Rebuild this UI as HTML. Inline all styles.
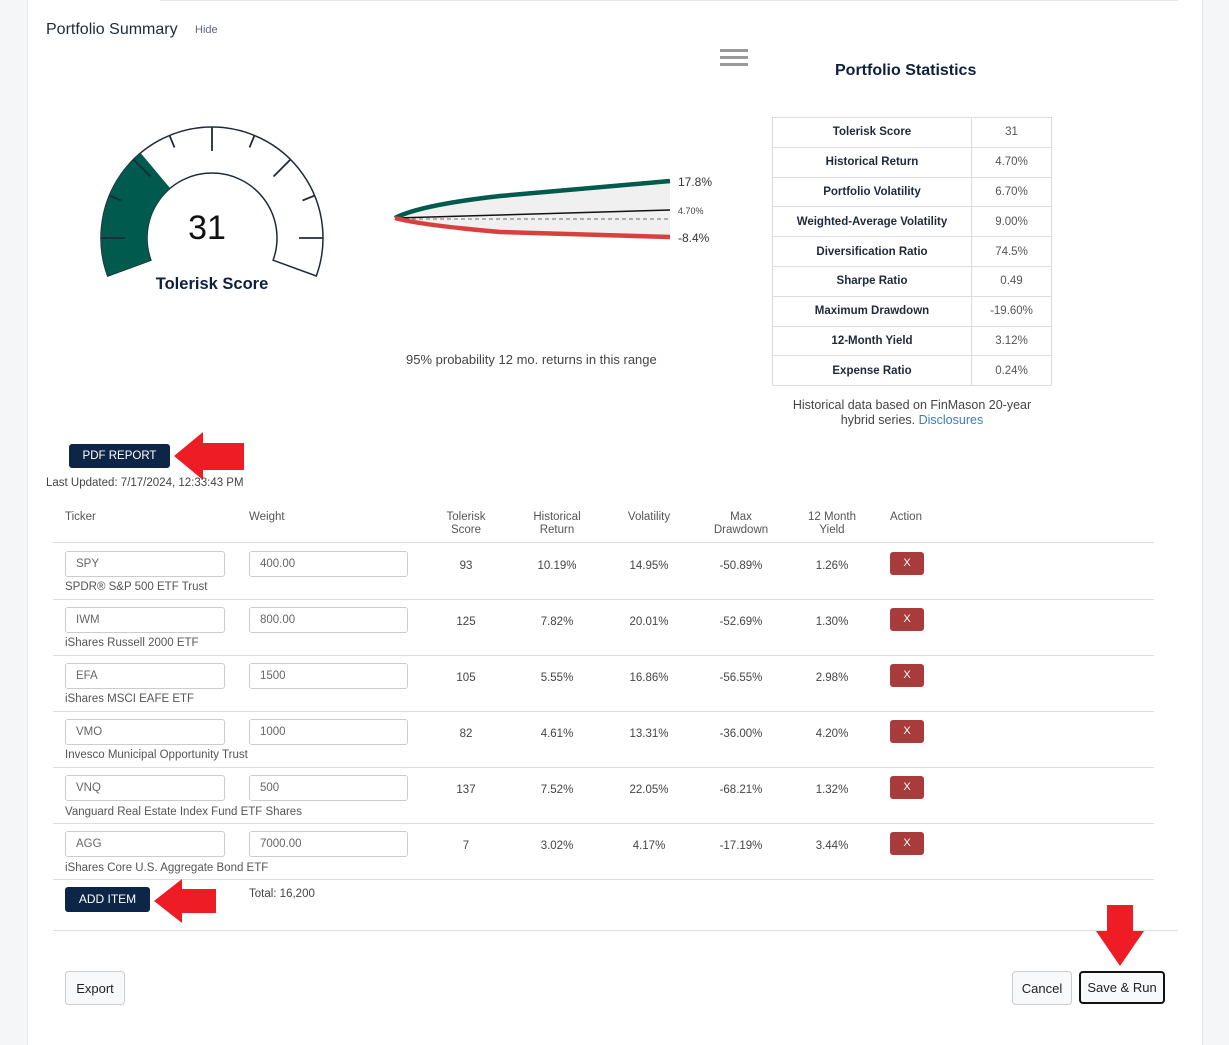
<!DOCTYPE html>
<html><head><meta charset="utf-8">
<style>
*{box-sizing:border-box;margin:0;padding:0}
body{width:1229px;height:1045px;background:#f5f6f8;font-family:"Liberation Sans",sans-serif;color:#1e2a3a;position:relative;overflow:hidden}
.card{position:absolute;left:27px;top:0;width:1176px;height:1045px;background:#fff;border-left:1px solid #e6e8eb;border-right:1px solid #e6e8eb}
.abs{position:absolute}
.t{position:absolute;white-space:nowrap}
table.st{position:absolute;left:772px;top:117px;border-collapse:collapse;font-size:11.5px}
table.st td{border:1px solid #ddd;height:29.8px;text-align:center}
table.st td.k{width:199px;font-weight:bold;color:#1e2a3a}
table.st td.v{width:80px;color:#555}
.inp{position:absolute;height:26px;border:1px solid #ccc;border-radius:3px;font-size:11.5px;color:#666;padding:6px 10px}
.hl{position:absolute;left:53px;width:1101px;height:1px;background:#ddd}
.x{position:absolute;left:890px;width:34px;height:23px;background:#a83b3b;border-radius:3px;color:#fff;font-size:11px;text-align:center;line-height:22px}
.c{position:absolute;font-size:11.5px;color:#444;text-align:center;width:80px}
.nm{position:absolute;left:65px;font-size:11.5px;color:#555}
.hd{position:absolute;font-size:11.5px;color:#555;text-align:center;line-height:13px}
.btn{position:absolute;background:#f8f9fa;border:1px solid #ccc;border-radius:4px;font-size:13px;color:#222;text-align:center}
.navy{position:absolute;background:#0d2547;color:#fff;border-radius:3px;font-size:11.5px;text-align:center}
</style></head><body>
<div class="card"></div>
<div class="abs" style="left:160px;top:0;width:1018px;height:1px;background:#e6e8eb"></div>
<div class="t" style="left:46px;top:21px;font-size:16px;color:#1e2a3a">Portfolio Summary</div>
<div class="t" style="left:195px;top:24px;font-size:11px;color:#5a6a80">Hide</div>
<div class="abs" style="left:720px;top:49px;width:28px;height:3px;background:#999;box-shadow:0 7px 0 #999,0 14px 0 #999"></div>
<div class="t" style="left:835px;top:62px;font-size:16px;font-weight:bold;color:#0d2040">Portfolio Statistics</div>

<svg class="abs" style="left:0;top:0" width="740" height="400">
<path d="M107.7,276 A111,111 0 1 1 316.3,276 L273.1,260.2 A65,65 0 1 0 150.9,260.2 Z" fill="#fff" stroke="#1e2a3a" stroke-width="1.5"/>
<path d="M107.7,276 A111,111 0 0 1 140.6,153 L170.2,188.2 A65,65 0 0 0 150.9,260.2 Z" fill="#005a4e"/>
<g stroke="#1e2a3a" stroke-width="1.8">
<line x1="212" y1="127" x2="212" y2="151" transform="rotate(-90 212 238)"/>
<line x1="212" y1="127" x2="212" y2="140" transform="rotate(-67.5 212 238)"/>
<line x1="212" y1="127" x2="212" y2="151" transform="rotate(-45 212 238)"/>
<line x1="212" y1="127" x2="212" y2="140" transform="rotate(-22.5 212 238)"/>
<line x1="212" y1="127" x2="212" y2="151"/>
<line x1="212" y1="127" x2="212" y2="140" transform="rotate(22.5 212 238)"/>
<line x1="212" y1="127" x2="212" y2="151" transform="rotate(45 212 238)"/>
<line x1="212" y1="127" x2="212" y2="140" transform="rotate(67.5 212 238)"/>
<line x1="212" y1="127" x2="212" y2="151" transform="rotate(90 212 238)"/>
</g>
<text x="207" y="239" font-size="34" text-anchor="middle" fill="#111" font-family="Liberation Sans">31</text>
<text x="212" y="289" font-size="16.5" font-weight="bold" text-anchor="middle" fill="#0d2040" font-family="Liberation Sans">Tolerisk Score</text>
<path d="M395,218 Q420,205 500,196 L670,181 L670,237 L500,232 Q420,225 395,218 Z" fill="#f0f0f0"/>
<line x1="398" y1="219" x2="670" y2="219" stroke="#888" stroke-width="1.3" stroke-dasharray="4,3"/>
<line x1="396" y1="218" x2="670" y2="210" stroke="#111" stroke-width="1.5"/>
<path d="M395,218 Q420,205 500,196 L670,181" fill="none" stroke="#005a4e" stroke-width="4.5"/>
<path d="M395,218 Q420,225 500,232 L670,237" fill="none" stroke="#d9403d" stroke-width="4.5"/>
<text x="678" y="186" font-size="12" fill="#333" font-family="Liberation Sans">17.8%</text>
<text x="678" y="214" font-size="9" fill="#444" font-family="Liberation Sans">4.70%</text>
<text x="678" y="242" font-size="12" fill="#333" font-family="Liberation Sans">-8.4%</text>
</svg>
<div class="t" style="left:406px;top:352px;font-size:13px;color:#444">95% probability 12 mo. returns in this range</div>

<table class="st">
<tr><td class="k">Tolerisk Score</td><td class="v">31</td></tr>
<tr><td class="k">Historical Return</td><td class="v">4.70%</td></tr>
<tr><td class="k">Portfolio Volatility</td><td class="v">6.70%</td></tr>
<tr><td class="k">Weighted-Average Volatility</td><td class="v">9.00%</td></tr>
<tr><td class="k">Diversification Ratio</td><td class="v">74.5%</td></tr>
<tr><td class="k">Sharpe Ratio</td><td class="v">0.49</td></tr>
<tr><td class="k">Maximum Drawdown</td><td class="v">-19.60%</td></tr>
<tr><td class="k">12-Month Yield</td><td class="v">3.12%</td></tr>
<tr><td class="k">Expense Ratio</td><td class="v">0.24%</td></tr>
</table>
<div class="t" style="left:782px;top:398px;width:260px;text-align:center;font-size:12.5px;color:#444;line-height:15px;white-space:normal">Historical data based on FinMason 20-year hybrid series. <span style="color:#3c7bc0">Disclosures</span></div>

<div class="navy" style="left:69px;top:444px;width:101px;height:24px;line-height:24px">PDF REPORT</div>
<svg class="abs" style="left:172px;top:430px" width="75" height="50"><path d="M2,26 L31,2 L31,13 L72,13 L72,40 L31,40 L31,50 Z" fill="#ee1c25"/></svg>
<div class="t" style="left:46px;top:477px;font-size:11.5px;color:#444">Last Updated: 7/17/2024, 12:33:43 PM</div>

<div class="hd" style="left:65px;top:511px;text-align:left">Ticker</div>
<div class="hd" style="left:249px;top:511px;text-align:left">Weight</div>
<div class="hd" style="left:426px;top:511px;width:80px">Tolerisk<br>Score</div>
<div class="hd" style="left:517px;top:511px;width:80px">Historical<br>Return</div>
<div class="hd" style="left:609px;top:511px;width:80px">Volatility</div>
<div class="hd" style="left:701px;top:511px;width:80px">Max<br>Drawdown</div>
<div class="hd" style="left:792px;top:511px;width:80px">12 Month<br>Yield</div>
<div class="hd" style="left:890px;top:511px;text-align:left">Action</div>

<div class="hl" style="top:542px"></div>
<div class="hl" style="top:599px"></div>
<div class="hl" style="top:655px"></div>
<div class="hl" style="top:711px"></div>
<div class="hl" style="top:767px"></div>
<div class="hl" style="top:823px"></div>
<div class="hl" style="top:879px"></div>

<div class="inp" style="left:65px;top:551px;width:160px">SPY</div><div class="inp" style="left:249px;top:551px;width:159px">400.00</div>
<div class="nm" style="top:581px">SPDR® S&amp;P 500 ETF Trust</div>
<div class="c" style="left:426px;top:560px">93</div><div class="c" style="left:517px;top:560px">10.19%</div><div class="c" style="left:609px;top:560px">14.95%</div><div class="c" style="left:701px;top:560px">-50.89%</div><div class="c" style="left:792px;top:560px">1.26%</div><div class="x" style="top:552px">X</div>

<div class="inp" style="left:65px;top:607px;width:160px">IWM</div><div class="inp" style="left:249px;top:607px;width:159px">800.00</div>
<div class="nm" style="top:637px">iShares Russell 2000 ETF</div>
<div class="c" style="left:426px;top:616px">125</div><div class="c" style="left:517px;top:616px">7.82%</div><div class="c" style="left:609px;top:616px">20.01%</div><div class="c" style="left:701px;top:616px">-52.69%</div><div class="c" style="left:792px;top:616px">1.30%</div><div class="x" style="top:608px">X</div>

<div class="inp" style="left:65px;top:663px;width:160px">EFA</div><div class="inp" style="left:249px;top:663px;width:159px">1500</div>
<div class="nm" style="top:693px">iShares MSCI EAFE ETF</div>
<div class="c" style="left:426px;top:672px">105</div><div class="c" style="left:517px;top:672px">5.55%</div><div class="c" style="left:609px;top:672px">16.86%</div><div class="c" style="left:701px;top:672px">-56.55%</div><div class="c" style="left:792px;top:672px">2.98%</div><div class="x" style="top:664px">X</div>

<div class="inp" style="left:65px;top:719px;width:160px">VMO</div><div class="inp" style="left:249px;top:719px;width:159px">1000</div>
<div class="nm" style="top:749px">Invesco Municipal Opportunity Trust</div>
<div class="c" style="left:426px;top:728px">82</div><div class="c" style="left:517px;top:728px">4.61%</div><div class="c" style="left:609px;top:728px">13.31%</div><div class="c" style="left:701px;top:728px">-36.00%</div><div class="c" style="left:792px;top:728px">4.20%</div><div class="x" style="top:720px">X</div>

<div class="inp" style="left:65px;top:775px;width:160px">VNQ</div><div class="inp" style="left:249px;top:775px;width:159px">500</div>
<div class="nm" style="top:806px">Vanguard Real Estate Index Fund ETF Shares</div>
<div class="c" style="left:426px;top:784px">137</div><div class="c" style="left:517px;top:784px">7.52%</div><div class="c" style="left:609px;top:784px">22.05%</div><div class="c" style="left:701px;top:784px">-68.21%</div><div class="c" style="left:792px;top:784px">1.32%</div><div class="x" style="top:776px">X</div>

<div class="inp" style="left:65px;top:831px;width:160px">AGG</div><div class="inp" style="left:249px;top:831px;width:159px">7000.00</div>
<div class="nm" style="top:862px">iShares Core U.S. Aggregate Bond ETF</div>
<div class="c" style="left:426px;top:840px">7</div><div class="c" style="left:517px;top:840px">3.02%</div><div class="c" style="left:609px;top:840px">4.17%</div><div class="c" style="left:701px;top:840px">-17.19%</div><div class="c" style="left:792px;top:840px">3.44%</div><div class="x" style="top:832px">X</div>

<div class="navy" style="left:65px;top:887px;width:85px;height:25px;line-height:25px;font-size:12px">ADD ITEM</div>
<svg class="abs" style="left:152px;top:877px" width="66" height="48"><path d="M2,24 L30,2 L30,12 L64,12 L64,36 L30,36 L30,46 Z" fill="#ee1c25"/></svg>
<div class="t" style="left:249px;top:888px;font-size:11.5px;color:#444">Total: 16,200</div>

<div class="abs" style="left:53px;top:930px;width:1125px;height:1px;background:#ddd"></div>
<svg class="abs" style="left:1094px;top:904px" width="52" height="64"><path d="M13,1 L39,1 L39,27 L50,27 L26,62 L2,27 L13,27 Z" fill="#ee1c25"/></svg>

<div class="btn" style="left:65px;top:971px;width:60px;height:34px;line-height:33px">Export</div>
<div class="btn" style="left:1012px;top:971px;width:60px;height:34px;line-height:33px">Cancel</div>
<div class="btn" style="left:1079px;top:971px;width:86px;height:33px;line-height:30px;border:2px solid #111">Save &amp; Run</div>
</body></html>
